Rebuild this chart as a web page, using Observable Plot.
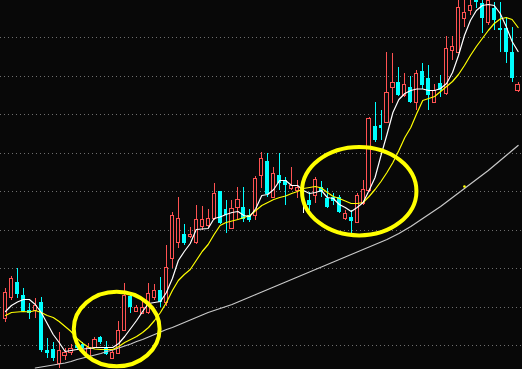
<!DOCTYPE html>
<html>
<head>
<meta charset="utf-8">
<script src="https://cdn.jsdelivr.net/npm/d3@7"></script>
<script src="https://cdn.jsdelivr.net/npm/@observablehq/plot@0.6"></script>
<style>
  html, body { margin: 0; padding: 0; background: #080808; overflow: hidden; }
  #chart svg { display: block; background: #080808; }
</style>
</head>
<body>
<div id="chart"></div>
<script>
// Daily candles (index points), oldest first
const open = [
  82, 103, 118, 105, 90, 90, 98, 50, 51, 37,
  45, 48, 55, 56, 43, 53, 63, 52, 42, 47,
  70, 104, 89, 87, 88, 103, 110, 98, 142, 158,
  166, 164, 158, 174, 175, 182, 209, 191, 172, 193,
  193, 185, 185, 225, 239, 203, 225, 220, 212, 210,
  205.5, 200, 205, 213, 202, 203, 203, 182, 183, 178,
  197, 210, 274, 275, 278, 313, 318, 305, 313, 298,
  329, 322, 298, 317, 307, 350, 348, 382, 390, 400,
  397, 378, 392, 372, 372, 348, 310
];
const high = [
  112, 124, 132, 112, 97, 102, 103, 62, 58, 68,
  52, 56, 57, 58, 57, 63, 64, 59, 50, 79,
  117, 107, 95, 100, 117, 116, 123, 155, 188, 203,
  176, 173, 195, 194, 191, 217, 209, 200, 200, 213,
  213, 191, 224, 248, 247, 233, 247, 223, 233, 220,
  210, 208, 223, 219, 212, 207, 205, 190, 190, 207,
  220, 283, 298, 290, 348, 347, 333, 327, 324, 330,
  337, 335, 316, 325, 364, 364, 402, 402, 402, 402,
  402, 402, 398, 398, 383, 373, 318
];
const low = [
  78, 100, 102, 88, 81, 82, 48, 42, 39, 32,
  40, 45, 50, 50, 42, 52, 56, 45, 41, 46,
  69, 87, 88, 86, 86, 100, 93, 94, 132, 152,
  155, 162, 156, 170, 173, 180, 176, 167, 171, 180,
  178, 178, 180, 212, 203, 202, 210, 195, 210, 202,
  187, 190, 197, 203, 192, 195, 187, 180, 164, 177,
  195, 208, 258, 260, 277, 297, 304, 303, 297, 290,
  311, 290, 297, 303, 305, 340, 347, 373, 385, 392,
  367, 375, 370, 348, 337, 318, 308
];
const close = [
  108, 122, 106, 89, 87.5, 95, 50, 47, 42, 50,
  48, 52, 52, 52, 53, 61, 58, 46, 48, 70,
  105, 93, 93, 93, 107, 110, 98, 133, 185, 182,
  157, 165.5, 181, 181, 182, 207, 177, 185, 192, 201,
  181, 180, 222, 242, 206, 227, 217, 215, 215, 213,
  205.5, 195, 221, 208, 193, 199, 188, 187, 179, 205,
  211, 282, 260, 272, 308, 318, 305, 316, 298, 327,
  315, 305, 310, 310, 352, 354, 393, 388, 395, 398,
  382, 400, 380, 370, 348, 322, 316
];

// Moving averages at each candle
const maShort = [
  89, 95, 98.5, 101, 101, 96, 88, 77, 66, 58,
  49, 50, 51, 51.5, 52, 53, 53, 53, 53, 57,
  64, 72, 80, 89, 97, 98, 99, 108, 122, 140,
  149, 157, 171, 171.5, 172, 182, 183.5, 186, 188, 189,
  185, 184, 192, 205, 206, 211, 220, 220, 215, 215,
  210, 207, 208, 210, 203, 202, 196, 193, 189, 193,
  198, 210, 223, 245, 266, 288, 301, 307, 310, 311.5,
  311.5, 310, 310, 312, 317, 328, 345, 365, 380, 390,
  395, 396, 395, 387, 374, 359, 349
];
const maMid = [
  85, 88, 88.5, 89, 88.5, 90, 88, 85, 83, 79,
  74, 69, 62, 57, 53, 51.5, 51, 51, 51, 54,
  58, 61, 64, 68, 73, 80, 88, 98, 110, 120,
  126, 131, 140, 149, 156, 166, 175, 178, 179.5, 181,
  183, 185, 190, 195, 198, 201, 203, 204.5, 207, 209,
  212, 213, 214, 212.5, 208, 204, 202, 199.5, 197, 197,
  198, 204, 211, 219, 228, 238, 250, 263, 273, 287,
  300, 302, 304, 309, 314, 319, 326, 335, 345, 354,
  362, 370, 377, 381.5, 383, 381, 373
];
const maLong = [
  null, null, null, null, null, 32.5, 33.5, 34.5, 35.5, 36.5,
  37.5, 39, 41, 42.5, 44, 45.5, 47, 49, 50.5, 52.5,
  54.5, 56.5, 59, 61, 63.5, 66, 68.5, 71, 73, 75.5,
  78, 80.5, 83, 85.5, 88, 90, 92, 94, 96, 98.5,
  101, 103.5, 106, 108.5, 111, 113.5, 116, 118.5, 121, 123.5,
  126, 128.5, 131, 133.5, 136, 138.5, 141, 143.5, 146, 148.5,
  151, 153.5, 156, 158.5, 161, 164, 167, 170.5, 174, 178,
  182, 186, 190, 194, 198.5, 203, 207.5, 212, 216.5, 221,
  225.5, 230, 235, 240, 245, 250, 255
];

// Horizontal reference levels
const gridLevels = [54.7, 93.2, 131.7, 170.2, 208.7, 247.2, 285.7, 324.2, 362.7];

// Circled consolidation zones: centre candle, centre level, half-width (candles), half-height (points)
const zoneCenter = [18.74, 59.43];
const zoneLevel = [71, 208.8];
const zoneHalfWidth = [7.2, 9.6];
const zoneHalfHeight = [37.3, 44.2];

// Signal marker
const signalIndex = [77];
const signalLevel = [214];

const UP = "#ff5252", DOWN = "#00ffff", FLAT = "#ffffff", BG = "#080808";

const candles = open.map((o, i) => ({i, o, h: high[i], l: low[i], c: close[i]}));
const colorOf = d => d.c > d.o ? UP : d.c < d.o ? DOWN : FLAT;
const ups = candles.filter(d => d.c >= d.o);
const downs = candles.filter(d => d.c < d.o);

const series = (arr) => arr.map((v, i) => ({i, v}));

const zones = zoneCenter.map((c, k) => ({
  i: c, v: zoneLevel[k], di: zoneHalfWidth[k], dv: zoneHalfHeight[k]
}));
const signals = signalIndex.map((i, k) => ({i, v: signalLevel[k]}));

function zoneRings(index, scales) {
  const g = d3.create("svg:g");
  for (const z of zones) {
    const cx = scales.x(z.i), cy = scales.y(z.v);
    const rx = Math.abs(scales.x(z.i + z.di) - cx);
    const ry = Math.abs(scales.y(z.v + z.dv) - cy);
    g.append("ellipse")
      .attr("cx", cx).attr("cy", cy).attr("rx", rx).attr("ry", ry)
      .attr("fill", "none").attr("stroke", "#ffff00").attr("stroke-width", 4);
  }
  return g.node();
}

const chart = Plot.plot({
  width: 522,
  height: 369,
  margin: 0,
  style: {background: BG},
  x: {domain: [-0.839, 86.74], axis: null},
  y: {domain: [31, 400], axis: null},
  marks: [
    Plot.ruleY(gridLevels, {stroke: "#6e6e6e", strokeDasharray: "1,3", shapeRendering: "crispEdges"}),
    Plot.ruleX(candles, {x: "i", y1: "l", y2: "h", stroke: colorOf, shapeRendering: "crispEdges"}),
    Plot.rect(downs, {x1: d => d.i - 0.33, x2: d => d.i + 0.33, y1: "o", y2: "c", fill: DOWN, shapeRendering: "crispEdges"}),
    Plot.rect(ups, {x1: d => d.i - 0.27, x2: d => d.i + 0.27, y1: "o", y2: "c", fill: BG, stroke: colorOf, strokeWidth: 1, shapeRendering: "crispEdges"}),
    Plot.line(series(maLong), {x: "i", y: "v", stroke: "#c8c8c8", strokeWidth: 1.2}),
    Plot.line(series(maMid), {x: "i", y: "v", stroke: "#ffff00", strokeWidth: 1.2}),
    Plot.line(series(maShort), {x: "i", y: "v", stroke: "#ffffff", strokeWidth: 1.2}),
    Plot.dot(signals, {x: "i", y: "v", r: 1.3, fill: "#ffff00"}),
    zoneRings
  ]
});

document.getElementById("chart").appendChild(chart);
</script>
</body>
</html>
